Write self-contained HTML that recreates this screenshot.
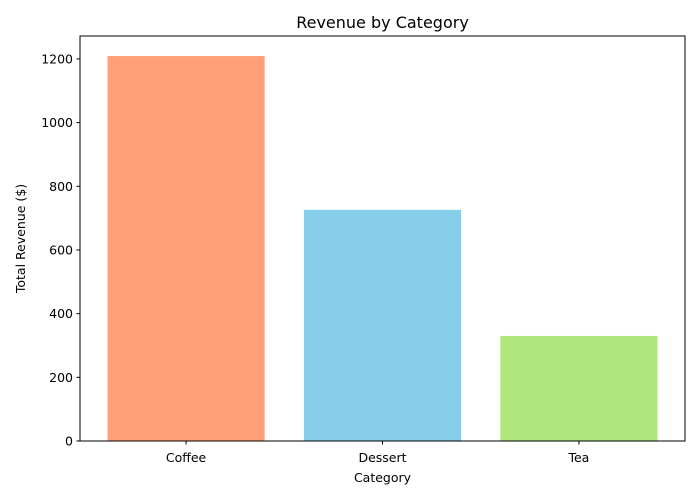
<!DOCTYPE html>
<html><head><meta charset="utf-8"><style>
body{margin:0;background:#fff}
svg{display:block;font-family:"DejaVu Sans","Liberation Sans",sans-serif}
</style></head><body>
<svg id="chart" width="700" height="500">
<text x="382.5" y="28" font-size="16" text-anchor="middle">Revenue by Category</text>
<g id="bars"></g>
<g id="axes"></g>
<text x="382.5" y="482" font-size="12.5" text-anchor="middle">Category</text>
<text transform="translate(25,238.5) rotate(-90)" font-size="12.5" text-anchor="middle">Total Revenue ($)</text>
</svg>
<script>
const categories=["Coffee","Dessert","Tea"];
const revenues=[1209,726,330];
const colors=["#FFA07A","#87CEEB","#B0E57C"];
const yTicks=[0,200,400,600,800,1000,1200];
const L=80,R=685,T=36,B=441,yMax=1272;
const xs=i=>L+(i+0.54)/3.08*(R-L);
const ys=v=>B-v/yMax*(B-T);
const bw=0.8/3.08*(R-L);
const NS="http://www.w3.org/2000/svg";
const bars=document.getElementById('bars'),axes=document.getElementById('axes');
function mk(tag,at,parent){const e=document.createElementNS(NS,tag);for(const k in at)e.setAttribute(k,at[k]);parent.appendChild(e);return e;}
categories.forEach((c,i)=>{
 const r=mk('rect',{x:xs(i)-bw/2,y:ys(revenues[i]),width:bw,height:B-ys(revenues[i]),fill:colors[i]},bars);
 
 
 const tk=mk('line',{x1:xs(i),x2:xs(i),y1:B,y2:B+3.5,stroke:'#000'},axes);
 
 
 const t=mk('text',{x:xs(i),y:B+21,'font-size':12.5,'text-anchor':'middle'},axes);
 t.textContent=c;
 
 
});
yTicks.forEach(v=>{
 const tk=mk('line',{x1:L-3.5,x2:L,y1:ys(v),y2:ys(v),stroke:'#000'},axes);
 
 
 const t=mk('text',{x:L-7,y:ys(v)+4.5,'font-size':12.5,'text-anchor':'end'},axes);
 t.textContent=v;
 
 
});
const f=mk('rect',{x:L,y:T,width:R-L,height:B-T,fill:'none',stroke:'#000','stroke-width':1},axes);


</script>
</body></html>
